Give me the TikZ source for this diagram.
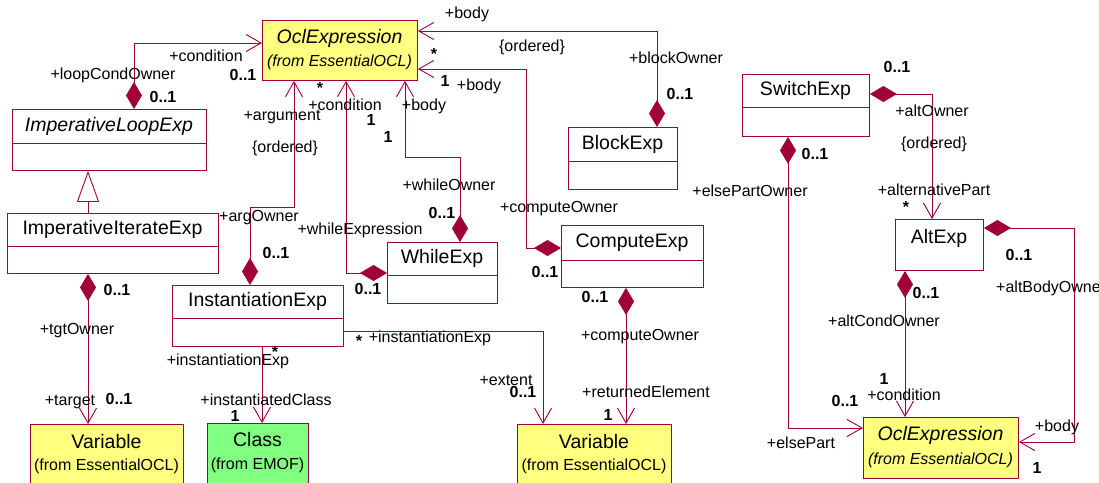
\documentclass[tikz,border=0pt]{standalone}
\usepackage{fontspec}
\setmainfont{Liberation Sans}
\usetikzlibrary{arrows.meta}
\definecolor{umlred}{RGB}{160,0,55}
\definecolor{oclyellow}{RGB}{255,255,128}
\definecolor{emofgreen}{RGB}{128,255,128}
\tikzset{
  cls/.style={draw=umlred, line width=0.9pt, fill=white, inner sep=0pt, anchor=north west},
  ext/.style={cls, fill=oclyellow},
  emof/.style={cls, fill=emofgreen},
  title/.style={font=\fontsize{19.5}{22}\selectfont, inner sep=0pt},
  ititle/.style={title, font=\fontsize{19.5}{22}\selectfont\itshape},
  sub/.style={font=\fontsize{16}{18}\selectfont, inner sep=0pt},
  isub/.style={font=\fontsize{16}{18}\selectfont\itshape, inner sep=0pt},
  lbl/.style={font=\fontsize{16}{18}\selectfont, inner sep=0pt},
  mult/.style={font=\fontsize{16}{18}\selectfont\bfseries, inner sep=0pt},
  divider/.style={draw=umlred, line width=0.9pt},
  assoc/.style={draw=umlred, line width=0.9pt, -{Straight Barb[length=15pt,width=17pt]}},
  comp/.style={draw=umlred, line width=0.9pt, {Diamond[length=27pt,width=16pt,fill=umlred]}-{Straight Barb[length=15pt,width=17pt]}},
  gen/.style={draw=umlred, line width=0.9pt, -{Triangle[open,length=31pt,width=22pt,fill=white]}},
}
\begin{document}
\begin{tikzpicture}[x=1pt,y=-1pt]
\clip (0,0) rectangle (1099,482);
\fill[white] (0,0) rectangle (1099,482);

% ---------- classes ----------
\node[ext, minimum width=155pt, minimum height=60pt] (ocl1) at (262,20) {};
\node[ititle] (ocl1t) at (339.5,38) {OclExpression};
\node[isub] (ocl1s) at (339.5,62) {(from EssentialOCL)};

\node[cls, minimum width=194pt, minimum height=61pt] (ilp) at (12,109) {};
\node[ititle] (ilpt) at (109,126) {ImperativeLoopExp};
\draw[divider] ([yshift=-34pt]ilp.north west) -- ([yshift=-34pt]ilp.north east);

\node[cls, minimum width=211pt, minimum height=60pt] (iie) at (7,213) {};
\node[title] (iiet) at (112.5,229.5) {ImperativeIterateExp};
\draw[divider] ([yshift=-33pt]iie.north west) -- ([yshift=-33pt]iie.north east);

\node[cls, minimum width=171pt, minimum height=61pt] (inst) at (172,285) {};
\node[title] (instt) at (257.5,301.5) {InstantiationExp};
\draw[divider] ([yshift=-33pt]inst.north west) -- ([yshift=-33pt]inst.north east);

\node[ext, minimum width=153pt, minimum height=60pt] (var1) at (30,424) {};
\node[title] (var1t) at (106.5,442) {Variable};
\node[sub] (var1s) at (106.5,466) {(from EssentialOCL)};

\node[emof, minimum width=101pt, minimum height=60pt] (cls) at (207,423) {};
\node[title] (clst) at (257.5,440) {Class};
\node[sub] (clss) at (257.5,465) {(from EMOF)};

\node[cls, minimum width=110pt, minimum height=61pt] (whl) at (387,242) {};
\node[title] (whlt) at (442,258.5) {WhileExp};
\draw[divider] ([yshift=-33pt]whl.north west) -- ([yshift=-33pt]whl.north east);

\node[cls, minimum width=142pt, minimum height=62pt] (cmp) at (561,225) {};
\node[title] (cmpt) at (632,242.5) {ComputeExp};
\draw[divider] ([yshift=-35pt]cmp.north west) -- ([yshift=-35pt]cmp.north east);

\node[cls, minimum width=109pt, minimum height=62pt] (blk) at (568,127) {};
\node[title] (blkt) at (622.5,144) {BlockExp};
\draw[divider] ([yshift=-34pt]blk.north west) -- ([yshift=-34pt]blk.north east);

\node[ext, minimum width=154pt, minimum height=60pt] (var2) at (517,424) {};
\node[title] (var2t) at (594,442) {Variable};
\node[sub] (var2s) at (594,466) {(from EssentialOCL)};

\node[cls, minimum width=127pt, minimum height=62pt] (sw) at (742,74) {};
\node[title] (swt) at (805.5,90.5) {SwitchExp};
\draw[divider] ([yshift=-33pt]sw.north west) -- ([yshift=-33pt]sw.north east);

\node[cls, minimum width=88pt, minimum height=51pt] (alt) at (895,219) {};
\node[title] (altt) at (939,238) {AltExp};

\node[ext, minimum width=155pt, minimum height=61pt] (ocl2) at (863,417) {};
\node[ititle] (ocl2t) at (940.5,435) {OclExpression};
\node[isub] (ocl2s) at (940.5,460) {(from EssentialOCL)};

% ---------- connectors ----------
\draw[gen] ([xshift=81pt]iie.north west) -- ([xshift=76pt]ilp.south west);
\draw[comp] ([xshift=122pt]ilp.north west) |- ([yshift=-23pt]ocl1.north west);
\draw[comp] ([xshift=78pt]inst.north west) -- ++(0,-78) -| ([xshift=32pt]ocl1.south west);
\draw[comp] ([yshift=-31pt]whl.north west) -| ([xshift=84pt]ocl1.south west);
\draw[comp] ([xshift=73pt]whl.north west) -- ++(0,-85) -| ([xshift=143pt]ocl1.south west);
\draw[comp] ([xshift=89pt]blk.north west) |- ([yshift=-11pt]ocl1.north east);
\draw[comp] ([yshift=-23pt]cmp.north west) -- ++(-35,0) |- ([yshift=-49pt]ocl1.north east);
\draw[assoc] ([yshift=-46pt]inst.north east) -| ([xshift=26pt]var2.north west);
\draw[assoc] ([xshift=90pt]inst.south west) -- ([xshift=55pt]cls.north west);
\draw[comp] ([xshift=81pt]iie.south west) -- ([xshift=58pt]var1.north west);
\draw[comp] ([xshift=65pt]cmp.south west) -- ([xshift=109pt]var2.north west);
\draw[comp] ([yshift=-20pt]sw.north east) -| ([xshift=37pt]alt.north west);
\draw[comp] ([xshift=46pt]sw.south west) |- ([yshift=-11pt]ocl2.north west);
\draw[comp] ([xshift=10pt]alt.south west) -- ([xshift=42pt]ocl2.north west);
\draw[comp] ([yshift=-9pt]alt.north east) -- ++(91,0) |- ([yshift=-25pt]ocl2.north east);

% ---------- labels ----------
% loop condition
\node[lbl] (a1) at (206,56) {+condition};
\node[mult] (a2) at (243,75) {0..1};
\node[lbl] (a3) at (113,75) {+loopCondOwner};
\node[mult] (a4) at (163,97) {0..1};
% argument
\node[lbl] (b1) at (282,117) {+argument};
\node[lbl] (b2) at (285,148) {\{ordered\}};
\node[lbl] (b3) at (259,218) {+argOwner};
\node[mult] (b4) at (276,253) {0..1};
% while condition
\node[mult] (c1) at (320,88) {*};
\node[lbl] (c2) at (345,105) {+condition};
\node[mult] (c3) at (371,120) {1};
\node[lbl] (c4) at (360,230) {+whileExpression};
\node[mult] (c5) at (368,289) {0..1};
% while body
\node[lbl] (d1) at (424,106) {+body};
\node[mult] (d2) at (388,137) {1};
\node[lbl] (d3) at (449,185) {+whileOwner};
\node[mult] (d4) at (442,213) {0..1};
% block body
\node[lbl] (e1) at (467,14) {+body};
\node[lbl] (e2) at (532,47) {\{ordered\}};
\node[lbl] (e3) at (676,58) {+blockOwner};
\node[mult] (e4) at (680,94) {0..1};
% compute body
\node[mult] (f1) at (434,54) {*};
\node[mult] (f2) at (445,81) {1};
\node[lbl] (f3) at (479,86) {+body};
\node[lbl] (f4) at (559,209) {+computeOwner};
\node[mult] (f5) at (545,272) {0..1};
% extent
\node[mult] (g1) at (359,341) {*};
\node[lbl] (g2) at (430,338) {+instantiationExp};
\node[lbl] (g3) at (506,380) {+extent};
\node[mult] (g4) at (523,392) {0..1};
% instantiated class
\node[mult] (h1) at (275,352) {*};
\node[lbl] (h2) at (228,361) {+instantiationExp};
\node[lbl] (h3) at (266,400) {+instantiatedClass};
\node[mult] (h4) at (235,416) {1};
% target
\node[mult] (i1) at (117,290) {0..1};
\node[lbl] (i2) at (77,331) {+tgtOwner};
\node[lbl] (i3) at (70,402) {+target};
\node[mult] (i4) at (119,399) {0..1};
% returned element
\node[mult] (j1) at (595,297) {0..1};
\node[lbl] (j2) at (640,337) {+computeOwner};
\node[lbl] (j3) at (646,392) {+returnedElement};
\node[mult] (j4) at (608,415) {1};
% alternative part
\node[mult] (k1) at (897,67) {0..1};
\node[lbl] (k2) at (932,111) {+altOwner};
\node[lbl] (k3) at (934,144) {\{ordered\}};
\node[lbl] (k4) at (934,190) {+alternativePart};
\node[mult] (k5) at (906,207) {*};
% else part
\node[mult] (l1) at (815,154) {0..1};
\node[lbl] (l2) at (750,191) {+elsePartOwner};
\node[mult] (l3) at (845,401) {0..1};
\node[lbl] (l4) at (801,443) {+elsePart};
% alt condition
\node[mult] (m1) at (926,293) {0..1};
\node[lbl] (m2) at (884,321) {+altCondOwner};
\node[mult] (m3) at (884,379) {1};
\node[lbl] (m4) at (904,395) {+condition};
% alt body
\node[mult] (n1) at (1019,255) {0..1};
\node[lbl, anchor=west] (n2) at (996,288) {+altBodyOwner};
\node[lbl] (n3) at (1057,427) {+body};
\node[mult] (n4) at (1037,468) {1};
\end{tikzpicture}
\end{document}
